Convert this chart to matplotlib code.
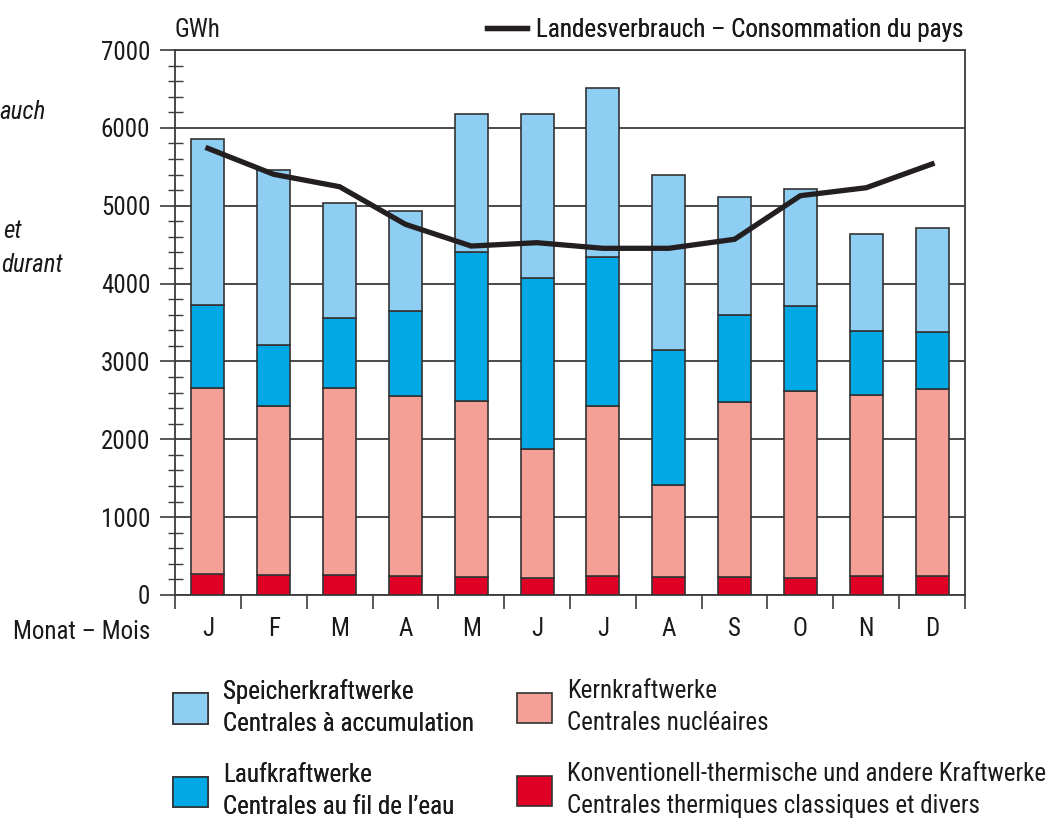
import matplotlib
matplotlib.use("Agg")
import matplotlib.pyplot as plt
from matplotlib import font_manager as fm
from matplotlib.ticker import MultipleLocator, FixedLocator
import numpy as np

# ---------------- data ----------------
months = ["J", "F", "M", "A", "M", "J", "J", "A", "S", "O", "N", "D"]
# cumulative tops (GWh)
thermal = [274, 253, 261, 244, 236, 223, 244, 227, 236, 218, 244, 244]
nuclear_top = [2663, 2423, 2654, 2560, 2496, 1875, 2427, 1413, 2483, 2620, 2569, 2642]
run_top = [3721, 3211, 3562, 3652, 4402, 4076, 4337, 3153, 3592, 3716, 3395, 3382]
storage_top = [5857, 5455, 5039, 4932, 6174, 6182, 6507, 5394, 5108, 5215, 4641, 4718]
consumption = [5737, 5403, 5244, 4761, 4482, 4525, 4453, 4453, 4569, 5129, 5231, 5536]

nuclear = [n - t for n, t in zip(nuclear_top, thermal)]
run_of_river = [r - n for r, n in zip(run_top, nuclear_top)]
storage = [s - r for s, r in zip(storage_top, run_top)]

labels_storage = "Speicherkraftwerke\nCentrales à accumulation"
labels_run = "Laufkraftwerke\nCentrales au fil de l\u2019eau"
labels_nuclear = "Kernkraftwerke\nCentrales nucléaires"
labels_thermal = "Konventionell-thermische und andere Kraftwerke\nCentrales thermiques classiques et divers"
label_line = "Landesverbrauch \u2013 Consommation du pays"

# ---------------- font ----------------
available = {f.name for f in fm.fontManager.ttflist}
family = "Lato"
for cand in ["Roboto Condensed", "Open Sans Condensed", "DejaVu Sans Condensed",
             "Liberation Sans Narrow", "Lato"]:
    if cand in available:
        family = cand
        break
plt.rcParams["font.family"] = [family, "DejaVu Sans"]

FS = 18
TXT = "#1a1a1a"
GRID = "#3c3c3c"
C_STORAGE = "#8ecef3"
C_RUN = "#00a8e6"
C_NUC = "#f4a096"
C_THERM = "#e00026"

W, H = 1055, 822
fig = plt.figure(figsize=(W / 100, H / 100), dpi=100)
fx = lambda x: x / W
fy = lambda y: 1 - y / H

ax = fig.add_axes([fx(175), fy(595), fx(965) - fx(175), fy(50) - fy(595)])

x = np.arange(len(months))
bw = 0.5
ekw = dict(edgecolor="#333333", linewidth=1.2, zorder=3)
b_th = ax.bar(x, thermal, bw, color=C_THERM, label=labels_thermal, **ekw)
b_nu = ax.bar(x, nuclear, bw, bottom=thermal, color=C_NUC, label=labels_nuclear, **ekw)
b_ru = ax.bar(x, run_of_river, bw, bottom=nuclear_top, color=C_RUN, label=labels_run, **ekw)
b_st = ax.bar(x, storage, bw, bottom=run_top, color=C_STORAGE, label=labels_storage, **ekw)
line, = ax.plot(x, consumption, color="#231f20", lw=3.8, zorder=4,
                solid_joinstyle="miter", label=label_line)

ax.set_xlim(-0.5, len(months) - 0.5)
ax.set_ylim(0, 7000)

ax.set_yticks(range(0, 7001, 1000))
ax.yaxis.set_minor_locator(MultipleLocator(200))
ax.tick_params(axis="y", which="major", direction="out", length=10.8, width=1.2,
               color=GRID, pad=7, labelsize=FS, labelcolor=TXT)
ax.tick_params(axis="y", which="minor", direction="inout", length=10.8, width=1.0,
               color=GRID)

ax.set_xticks(x)
ax.set_xticklabels(months)
ax.xaxis.set_minor_locator(FixedLocator(np.arange(-0.5, len(months), 1.0)))
ax.tick_params(axis="x", which="major", length=0, pad=16, labelsize=FS, labelcolor=TXT)
ax.tick_params(axis="x", which="minor", direction="out", length=10, width=1.2, color=GRID)

ax.yaxis.grid(True, which="major", color=GRID, lw=1.3)
ax.set_axisbelow(True)
for s in ax.spines.values():
    s.set_color(GRID)
    s.set_linewidth(1.3)

# texts
fig.text(fx(175), fy(30), "GWh", fontsize=FS, color=TXT, ha="left", va="center")
fig.text(fx(150), fy(632), "Monat \u2013 Mois", fontsize=FS, color=TXT, ha="right", va="center")
fig.text(fx(46), fy(112), "auch", fontsize=FS, color=TXT, ha="right",
         va="center", style="italic")
fig.text(fx(3), fy(231), "et", fontsize=FS, color=TXT, ha="left", va="center", style="italic")
fig.text(fx(63), fy(265), "durant", fontsize=FS, color=TXT, ha="right", va="center",
         style="italic")

# top legend (line)
leg_top = fig.legend(handles=[line], loc="center right", bbox_to_anchor=(fx(964), fy(30)),
                     frameon=False, fontsize=FS, handlelength=1.6, handletextpad=0.4,
                     borderpad=0, borderaxespad=0, labelcolor=TXT)
fig.add_artist(leg_top)

# bottom legends
common = dict(frameon=False, fontsize=FS, handlelength=1.4, handleheight=1.5,
              handletextpad=0.6, borderpad=0, borderaxespad=0, labelspacing=1.1,
              labelcolor=TXT, loc="upper left")
leg1 = fig.legend(handles=[b_st, b_ru], labels=[labels_storage, labels_run],
                  bbox_to_anchor=(fx(173), fy(679)), **common)
fig.add_artist(leg1)
leg2 = fig.legend(handles=[b_nu, b_th], labels=[labels_nuclear, labels_thermal],
                  bbox_to_anchor=(fx(517), fy(679)), **common)
for lg in (leg1, leg2):
    for t in lg.get_texts():
        t.set_linespacing(1.4)

fig.savefig("out.png", dpi=100)
